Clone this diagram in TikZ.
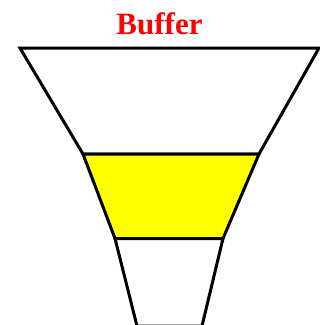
\documentclass[tikz,border=0pt]{standalone}
\usepackage{fontspec}
\setmainfont{Liberation Serif}
\definecolor{pureyellow}{RGB}{255,255,0}
\tikzset{
  funnelpart/.style={draw=black, line width=3pt, line join=miter},
  titletext/.style={text=red, font=\fontsize{31}{33}\selectfont\bfseries, inner sep=0pt, anchor=base}
}
\begin{document}
\begin{tikzpicture}[x=1pt,y=-1pt]
\useasboundingbox (0,0) rectangle (320,325);
\clip (0,0) rectangle (320,325);
\node[titletext] (title) at (159.5,34) {Buffer};
\coordinate (tl) at (20,48);
\coordinate (tr) at (319,48);
\coordinate (ml) at (83,154);
\coordinate (mr) at (259,154);
\coordinate (ll) at (115,238.5);
\coordinate (lr) at (223,238.5);
\coordinate (bl) at (137,326);
\coordinate (br) at (202,326);
\draw[funnelpart, fill=white] (tl) -- (tr) -- (mr) -- (ml) -- cycle;
\draw[funnelpart, fill=pureyellow] (ml) -- (mr) -- (lr) -- (ll) -- cycle;
\draw[funnelpart, fill=white] (ll) -- (lr) -- (br) -- (bl) -- cycle;
\end{tikzpicture}
\end{document}
